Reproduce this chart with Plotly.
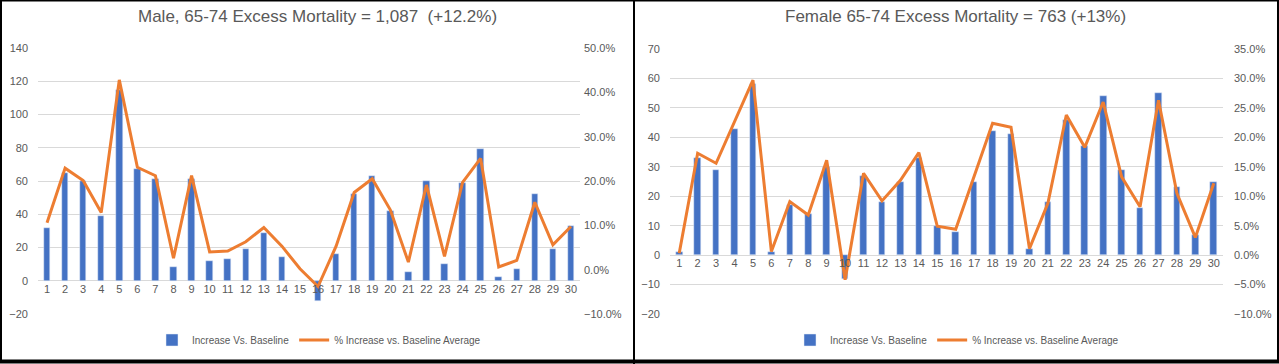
import plotly.graph_objects as go

days = list(range(1, 31))

male_increase = [32, 65, 60, 39, 115, 67, 61, 8, 61, 12, 13, 19, 29, 14, 0, -12,
                 16, 52, 63, 42, 5, 60, 10, 59, 79, 2, 7, 52, 19, 33]
male_pct = [0.106, 0.229, 0.201, 0.129, 0.428, 0.231, 0.212, 0.026, 0.212, 0.040,
            0.042, 0.063, 0.095, 0.053, 0.002, -0.038, 0.053, 0.174, 0.205, 0.135,
            0.017, 0.191, 0.030, 0.197, 0.251, 0.006, 0.021, 0.152, 0.056, 0.0975]

female_increase = [1, 33, 29, 43, 58, 1, 17, 14, 30, -8, 27, 18, 25, 33, 10, 8,
                   25, 42, 41, 2, 18, 46, 37, 54, 29, 16, 55, 23, 7, 25]
female_pct = [0.003, 0.173, 0.156, 0.225, 0.297, 0.006, 0.091, 0.068, 0.161, -0.042,
              0.139, 0.092, 0.127, 0.174, 0.049, 0.044, 0.133, 0.224, 0.217, 0.011,
              0.088, 0.238, 0.183, 0.260, 0.133, 0.082, 0.263, 0.105, 0.030, 0.122]

titles = ["Male, 65-74 Excess Mortality = 1,087  (+12.2%)",
          "Female 65-74 Excess Mortality = 763 (+13%)"]
bar_name = "Increase Vs. Baseline"
line_name = "% Increase vs. Baseline Average"

BLUE = "#4472C4"
ORANGE = "#ED7D31"
GRID = "#D9D9D9"
TXT = "#595959"
FONT = "Liberation Sans"
W, H = 1279, 364

def px(xp):
    return xp / W

def py(yp):
    return (H - yp) / H

fig = go.Figure()

fig.add_trace(go.Bar(x=days, y=male_increase, name=bar_name, marker_color=BLUE,
                     width=0.36, xaxis="x", yaxis="y", legend="legend"))
fig.add_trace(go.Scatter(x=days, y=male_pct, name=line_name, mode="lines",
                         line=dict(color=ORANGE, width=3), xaxis="x", yaxis="y2",
                         legend="legend"))
fig.add_trace(go.Bar(x=days, y=female_increase, name=bar_name, marker_color=BLUE,
                     width=0.36, xaxis="x2", yaxis="y3", legend="legend2"))
fig.add_trace(go.Scatter(x=days, y=female_pct, name=line_name, mode="lines",
                         line=dict(color=ORANGE, width=3), xaxis="x2", yaxis="y4",
                         legend="legend2"))

tickfont = dict(family=FONT, size=11, color=TXT)

xcommon = dict(range=[0.5, 30.5], dtick=1, tick0=1, showgrid=False, showline=False,
               zeroline=False, ticks="", tickfont=tickfont, anchor="free",
               automargin=False, fixedrange=True)

fig.update_layout(
    width=W, height=H,
    margin=dict(l=0, r=0, t=0, b=0, pad=0, autoexpand=False),
    paper_bgcolor="white", plot_bgcolor="white",
    showlegend=True,
    bargap=0,
    xaxis=dict(domain=[px(38), px(580)], position=py(281), **xcommon),
    yaxis=dict(domain=[py(314), py(48)], range=[-20, 140], dtick=20,
               gridcolor=GRID, gridwidth=1, zeroline=False, showline=False,
               tickfont=tickfont, ticks="", ticklabelstandoff=9, automargin=False),
    yaxis2=dict(overlaying="y", side="right", anchor="x", range=[-0.1, 0.5], dtick=0.1,
                tickformat=".1%", showgrid=False, zeroline=False, showline=False,
                tickfont=tickfont, ticks="", ticklabelstandoff=3, automargin=False),
    xaxis2=dict(domain=[px(670), px(1223)], position=py(255), **xcommon),
    yaxis3=dict(domain=[py(314), py(49)], anchor="x2", range=[-20, 70], dtick=10,
                gridcolor=GRID, gridwidth=1, zeroline=False, showline=False,
                tickfont=tickfont, ticks="", ticklabelstandoff=9, automargin=False),
    yaxis4=dict(overlaying="y3", side="right", anchor="x2", range=[-0.1, 0.35],
                dtick=0.05, tickformat=".1%", showgrid=False, zeroline=False,
                showline=False, tickfont=tickfont, ticks="", ticklabelstandoff=10,
                automargin=False),
    legend=dict(orientation="h", x=px(319), xanchor="center", y=py(340),
                yanchor="middle", font=dict(family=FONT, size=10, color=TXT),
                itemwidth=30, bgcolor="rgba(0,0,0,0)", traceorder="normal"),
    legend2=dict(orientation="h", x=px(957), xanchor="center", y=py(340),
                 yanchor="middle", font=dict(family=FONT, size=10, color=TXT),
                 itemwidth=30, bgcolor="rgba(0,0,0,0)", traceorder="normal"),
    annotations=[
        dict(text=titles[0], x=px(317), y=py(17), xref="paper", yref="paper",
             xanchor="center", yanchor="middle", showarrow=False,
             font=dict(family=FONT, size=17, color=TXT)),
        dict(text=titles[1], x=px(956), y=py(17), xref="paper", yref="paper",
             xanchor="center", yanchor="middle", showarrow=False,
             font=dict(family=FONT, size=17, color=TXT)),
    ],
    shapes=[
        dict(type="rect", xref="paper", yref="paper", x0=px(1), x1=px(1278),
             y0=py(362), y1=py(0.5), line=dict(color="black", width=2),
             fillcolor="rgba(0,0,0,0)"),
        dict(type="line", xref="paper", yref="paper", x0=px(634), x1=px(634),
             y0=0, y1=1, line=dict(color="black", width=2)),
        dict(type="line", xref="paper", yref="paper", x0=0, x1=1,
             y0=py(361.5), y1=py(361.5), line=dict(color="black", width=4)),
    ],
)

css_fix = (
    "var s=document.createElement('style');"
    "s.textContent='html,body{margin:0;padding:0;overflow:hidden;height:364px;}"
    "body>div{height:364px;overflow:hidden;}';"
    "document.head.appendChild(s);"
)

fig.write_html(
    "out.html",
    config={"displayModeBar": False, "responsive": False},
    post_script=css_fix,
)
